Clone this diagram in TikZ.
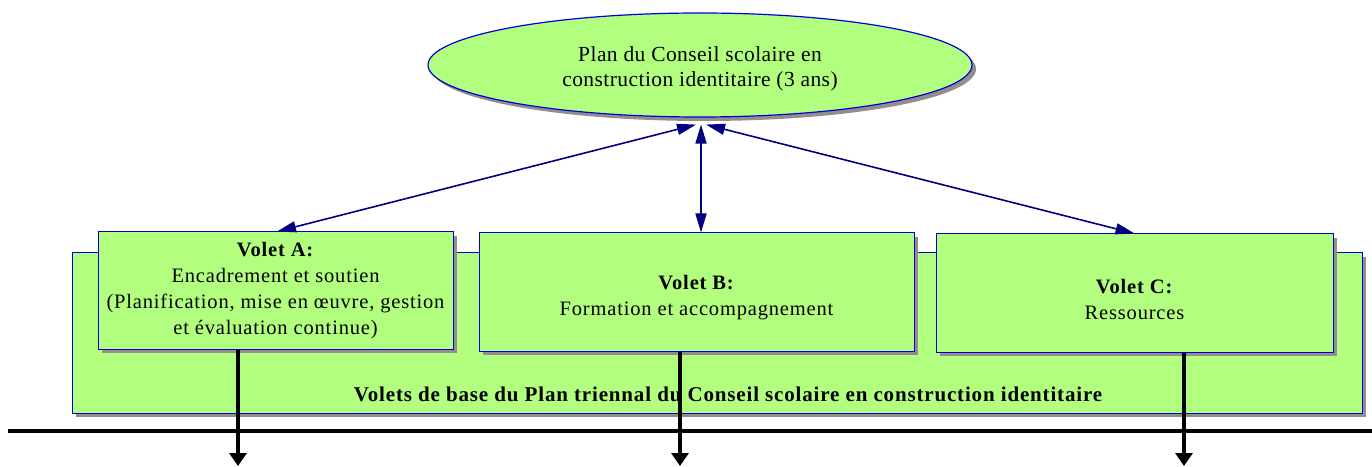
\documentclass[tikz,border=0pt]{standalone}
\usepackage{fontspec}
\setmainfont{Liberation Serif}
\usetikzlibrary{shapes.geometric,arrows.meta,shadows,calc}
\definecolor{boxgreen}{RGB}{178,255,128}
\definecolor{boxblue}{RGB}{0,0,220}
\definecolor{arrnavy}{RGB}{0,0,128}
\definecolor{shadowgray}{RGB}{150,140,140}
\tikzset{
  x=1pt,y=1pt,
  gshadow/.style={drop shadow={shadow xshift=4pt,shadow yshift=-4pt,fill=shadowgray,opacity=1}},
  gbox/.style={rectangle,draw=boxblue,line width=1pt,fill=boxgreen,gshadow,inner sep=0pt},
  boxtext/.style={align=center,inner sep=0pt,font=\fontsize{20.5}{26}\selectfont\addfontfeatures{LetterSpace=4}},
  plan/.style={ellipse,draw=boxblue,line width=1.2pt,fill=boxgreen,gshadow,inner sep=0pt},
  plantext/.style={align=center,inner sep=0pt,font=\fontsize{21.5}{25}\selectfont\addfontfeatures{LetterSpace=2}},
  navyarrow/.style={draw=arrnavy,line width=1.6pt,{Triangle[length=19pt,width=11pt]}-{Triangle[length=19pt,width=11pt]}},
  blackarrow/.style={draw=black,line width=4pt,-{Triangle[length=13pt,width=17pt]}},
}
\begin{document}
\begin{tikzpicture}
\useasboundingbox (0,0) rectangle (1372,466);
% background box
\node[gbox,minimum width=1290pt,minimum height=160pt] (base) at (717,133) {};
\node[font=\bfseries\fontsize{21}{24}\selectfont\addfontfeatures{LetterSpace=4}] (baselbl) at (728,72) {Volets de base du Plan triennal du Conseil scolaire en construction identitaire};
% boxes
\node[gbox,minimum width=355pt,minimum height=117pt] (boxA) at (275.5,175.5) {};
\node[boxtext] (textA) at ($(boxA.center)+(0,-0.5)$)
  {\textbf{Volet A:}\\Encadrement et soutien\\(Planification, mise en œuvre, gestion\\et évaluation continue)};
\node[gbox,minimum width=435pt,minimum height=118pt] (boxB) at (696.5,174) {};
\node[boxtext] (textB) at ($(boxB.center)+(0,-6)$)
  {\textbf{Volet B:}\\Formation et accompagnement};
\node[gbox,minimum width=397pt,minimum height=118pt] (boxC) at (1134.5,173) {};
\node[boxtext] (textC) at ($(boxC.center)+(0,-6)$)
  {\textbf{Volet C:}\\Ressources};
% ellipse
\node[plan,minimum width=544pt,minimum height=104pt] (plan) at (700,401) {};
\node[plantext] (plantxt) at ($(plan.center)+(0,-4)$)
  {Plan du Conseil scolaire en\\construction identitaire (3 ans)};
% navy arrows
\draw[navyarrow] ($(plan.south)+(-4,-7)$) -- ($(boxA.north)+(1.5,0)$);
\draw[navyarrow] ($(plan.south)+(1,-7)$) -- ($(boxB.north)+(4.5,0)$);
\draw[navyarrow] ($(plan.south)+(6,-7)$) -- (boxC.north);
% horizontal line
\coordinate (hl) at (8,35);
\coordinate (hr) at (1372,35);
\draw[line width=4pt] (hl) -- (hr);
% black arrows
\coordinate (ea) at (238,0);
\coordinate (eb) at (680,0);
\coordinate (ec) at (1184,0);
\draw[blackarrow] (boxA.south -| ea) -- (ea);
\draw[blackarrow] (boxB.south -| eb) -- (eb);
\draw[blackarrow] (boxC.south -| ec) -- (ec);
\end{tikzpicture}
\end{document}
